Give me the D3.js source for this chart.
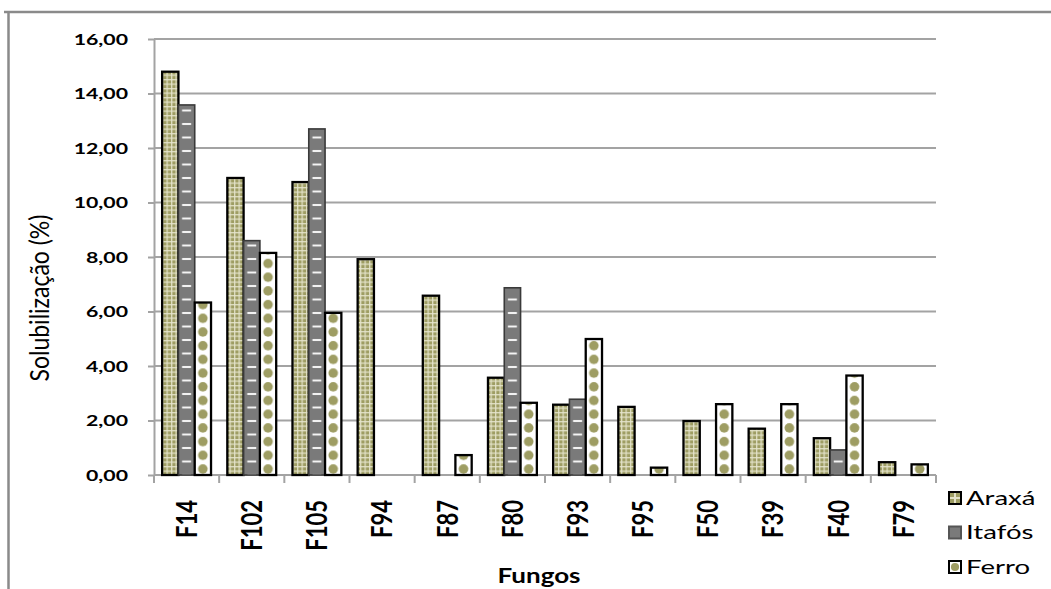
<!DOCTYPE html>
<html><head><meta charset="utf-8">
<script src="https://cdn.jsdelivr.net/npm/d3@7"></script>
<style>
html,body{margin:0;padding:0;background:#fff;}
svg{display:block;}
text{font-family:Lato,"Open Sans",sans-serif;fill:#000;}
</style></head><body>
<svg id="c" width="1051" height="589"></svg>
<script>
// ---- data ----
const categories = ["F14","F102","F105","F94","F87","F80","F93","F95","F50","F39","F40","F79"];
const seriesNames = ["Araxá","Itafós","Ferro"];
const araxa  = [14.80,10.90,10.75,7.92,6.58,3.57,2.58,2.50,1.98,1.70,1.35,0.47];
const itafos = [13.58,8.60,12.70,null,null,6.87,2.78,null,null,null,0.92,null];
const ferro  = [6.33,8.15,5.95,null,0.73,2.65,4.99,0.27,2.60,2.60,3.65,0.39];
const yTicks = [0,2,4,6,8,10,12,14,16];
const yTickLabels = ["0,00","2,00","4,00","6,00","8,00","10,00","12,00","14,00","16,00"];
const xTitle = "Fungos";
const yTitle = "Solubilização (%)";

const seriesValues = [araxa, itafos, ferro];

// ---- layout / style ----
const L = 154, R = 936, T = 39, B = 475;
const OLIVE = "#9e9d63", OLIVE_LIGHT = "#e6e5cc", GRAY = "#7a7a7a", AXIS = "#a3a3a3";

const svg = d3.select("#c");
const defs = svg.append("defs");

const x0 = d3.scaleBand().domain(categories).range([L, R]);
const bw = x0.bandwidth();
const x1 = d3.scaleBand().domain(seriesNames).range([bw * 0.125, bw * 0.875]);
const y = d3.scaleLinear().domain([0, 16]).range([B, T]);

function stretch(sel, f) {
  sel.each(function () {
    const w = this.getComputedTextLength();
    d3.select(this).attr("textLength", w * f).attr("lengthAdjust", "spacingAndGlyphs");
  });
}

// frame
svg.append("line").attr("x1", 4).attr("x2", 1051).attr("y1", 12).attr("y2", 12)
  .attr("stroke", "#8a8a8a").attr("stroke-width", 2.5);
svg.append("line").attr("x1", 8.5).attr("x2", 8.5).attr("y1", 11).attr("y2", 589)
  .attr("stroke", "#8a8a8a").attr("stroke-width", 2.5);

// gridlines
svg.append("g").selectAll("line").data(yTicks.filter(d => d > 0)).join("line")
  .attr("x1", L).attr("x2", R).attr("y1", d => y(d)).attr("y2", d => y(d))
  .attr("stroke", AXIS).attr("stroke-width", 2);

// y axis
const gy = svg.append("g").attr("transform", `translate(${L},0)`)
  .call(d3.axisLeft(y).tickValues(yTicks).tickFormat((d, i) => yTickLabels[i])
    .tickSize(6).tickSizeOuter(0).tickPadding(20));
gy.select(".domain").attr("stroke", AXIS).attr("stroke-width", 2);
gy.selectAll(".tick line").attr("stroke", AXIS).attr("stroke-width", 2);
gy.selectAll(".tick text").attr("font-family", "Lato").attr("font-size", 16)
  .attr("font-weight", "bold").attr("fill", "#000");
stretch(gy.selectAll(".tick text"), 1.33);

// x axis line + boundary ticks
const gx = svg.append("g");
gx.append("line").attr("x1", L).attr("x2", R).attr("y1", B).attr("y2", B)
  .attr("stroke", AXIS).attr("stroke-width", 2);
const bounds = categories.map(c => x0(c)).concat([x0(categories[categories.length - 1]) + bw]);
gx.selectAll("line.tk").data(bounds).join("line").attr("class", "tk")
  .attr("x1", d => d).attr("x2", d => d).attr("y1", B).attr("y2", B + 8)
  .attr("stroke", AXIS).attr("stroke-width", 2);

// x tick labels (rotated)
svg.append("g").selectAll("text").data(categories).join("text")
  .attr("transform", d => `translate(${x0(d) + bw / 2},500) rotate(-90) scale(1,1.3)`)
  .attr("text-anchor", "end").attr("dy", "0.36em")
  .attr("font-size", 22).attr("font-weight", "bold").text(d => d);

// patterns
const pA = defs.append("pattern").attr("id", "pA").attr("patternUnits", "userSpaceOnUse")
  .attr("width", 4.5).attr("height", 4.5).attr("x", 0).attr("y", B);
pA.append("rect").attr("width", 4.5).attr("height", 4.5).attr("fill", OLIVE);
pA.append("rect").attr("width", 4.5).attr("height", 1.3).attr("fill", OLIVE_LIGHT).attr("opacity", 0.9);
pA.append("rect").attr("width", 1.3).attr("height", 4.5).attr("fill", OLIVE_LIGHT).attr("opacity", 0.9);

function fillFor(si, bx, w) {
  if (si === 0) return "url(#pA)";
  const id = `p${si}_${Math.round(bx * 10)}`;
  const h = si === 1 ? 13.5 : 13.7;
  const p = defs.append("pattern").attr("id", id).attr("patternUnits", "userSpaceOnUse")
    .attr("x", bx).attr("y", si === 1 ? B - h / 2 : B).attr("width", w).attr("height", h);
  if (si === 1) {
    p.append("rect").attr("width", w).attr("height", h).attr("fill", GRAY);
    p.append("rect").attr("x", w / 2 - 4.5).attr("y", h / 2 - 1).attr("width", 9).attr("height", 2)
      .attr("fill", "#f4f4f4");
  } else {
    p.append("rect").attr("width", w).attr("height", h).attr("fill", "#fff");
    p.append("circle").attr("cx", w / 2).attr("cy", h - 6).attr("r", 4.8).attr("fill", OLIVE);
  }
  return `url(#${id})`;
}

// bars
const barData = [];
seriesValues.forEach((vals, si) => {
  vals.forEach((v, ci) => {
    if (v !== null) barData.push({ si, cat: categories[ci], v });
  });
});
svg.append("g").selectAll("rect").data(barData).join("rect")
  .attr("x", d => x0(d.cat) + x1(seriesNames[d.si]))
  .attr("y", d => y(d.v))
  .attr("width", x1.bandwidth())
  .attr("height", d => B - y(d.v))
  .attr("fill", d => fillFor(d.si, x0(d.cat) + x1(seriesNames[d.si]), x1.bandwidth()))
  .attr("stroke", d => d.si === 1 ? "#3a3a3a" : "#000")
  .attr("stroke-width", d => d.si === 1 ? 1.6 : 2.3);

// legend
const lpA = defs.append("pattern").attr("id", "lpA").attr("patternContentUnits", "objectBoundingBox")
  .attr("width", 1).attr("height", 1);
lpA.append("rect").attr("width", 1).attr("height", 1).attr("fill", OLIVE);
lpA.append("rect").attr("x", 0.42).attr("width", 0.16).attr("height", 1).attr("fill", OLIVE_LIGHT);
lpA.append("rect").attr("y", 0.42).attr("width", 1).attr("height", 0.16).attr("fill", OLIVE_LIGHT);
const lpF = defs.append("pattern").attr("id", "lpF").attr("patternContentUnits", "objectBoundingBox")
  .attr("width", 1).attr("height", 1);
lpF.append("rect").attr("width", 1).attr("height", 1).attr("fill", "#fff");
lpF.append("circle").attr("cx", 0.5).attr("cy", 0.5).attr("r", 0.34).attr("fill", OLIVE);

const legendFills = ["url(#lpA)", GRAY, "url(#lpF)"];
const lg = svg.append("g").selectAll("g").data(seriesNames).join("g")
  .attr("transform", (d, i) => `translate(949,${498 + i * 34.5})`);
lg.append("rect").attr("x", 0).attr("y", -6).attr("width", 12).attr("height", 12)
  .attr("fill", (d, i) => legendFills[i])
  .attr("stroke", (d, i) => i === 1 ? "#555" : "#000").attr("stroke-width", 2);
const lt = lg.append("text").attr("x", 17).attr("dy", "0.36em").attr("font-size", 19).text(d => d);
stretch(lt, 1.45);

// axis titles
const xt = svg.append("text").attr("x", (L + R) / 2 - 6).attr("y", 583).attr("text-anchor", "middle")
  .attr("font-size", 20).attr("font-weight", "bold").text(xTitle);
stretch(xt, 1.3);
svg.append("text").attr("transform", "translate(39,298) rotate(-90) scale(1,1.2)")
  .attr("text-anchor", "middle").attr("dy", "0.36em").attr("font-size", 23).text(yTitle);
</script>
</body></html>
